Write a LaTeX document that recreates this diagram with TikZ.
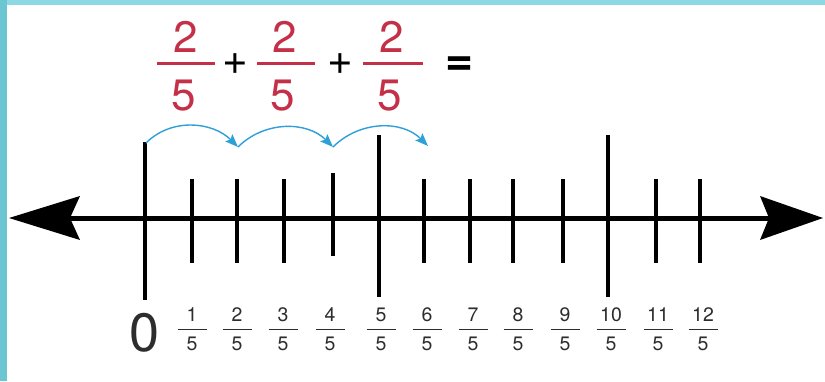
\documentclass[tikz,border=0pt]{standalone}
\usepackage{fontspec}
\setmainfont{TeX Gyre Heros}
\usetikzlibrary{arrows.meta,calc}
\definecolor{fracred}{RGB}{196,48,72}
\definecolor{jumpblue}{RGB}{45,160,215}
\definecolor{leftcyan}{RGB}{108,198,210}
\definecolor{topcyan}{RGB}{140,216,228}
\definecolor{labgray}{RGB}{45,45,45}
\tikzset{
  topnum/.style={inner sep=0pt, text=fracred, font=\fontsize{44}{44}\selectfont},
  topop/.style={inner sep=0pt, text=black, font=\fontsize{44}{44}\selectfont},
  topbar/.style={draw=fracred, line width=3pt},
  tickline/.style={line width=4.5pt, black},
  smalllab/.style={inner sep=0pt, text=labgray, font=\fontsize{19.5}{19.5}\selectfont},
  smallbar/.style={draw=labgray, line width=1.4pt},
  jump/.style={draw=jumpblue, line width=1.4pt, -{Stealth[length=13pt,width=10pt,inset=2.5pt]}},
}
\begin{document}
\begin{tikzpicture}[x=1pt,y=-1pt]
\useasboundingbox (0,0) rectangle (825,381);
\fill[white] (0,0) rectangle (825,381);
\fill[topcyan] (0,0) rectangle (825,4.5);
\fill[leftcyan] (0,0) rectangle (7,381);

% top sum
\node[topnum] (f1n) at (186,37) {2};
\node[topnum] (f1d) at (184,96) {5};
\draw[topbar] (157,63) -- (215,63);
\node[topop] (p1) at (235,64) {+};
\node[topnum] (f2n) at (285,37) {2};
\node[topnum] (f2d) at (283,96) {5};
\draw[topbar] (257,63) -- (315,63);
\node[topop] (p2) at (340,64) {+};
\node[topnum] (f3n) at (392,37) {2};
\node[topnum] (f3d) at (390,96) {5};
\draw[topbar] (363,63) -- (423,63);
\node[inner sep=0pt, font=\bfseries\fontsize{48}{48}\selectfont] (eq) at (460,66) {=};

% axis
\coordinate (L) at (9,218);
\coordinate (R) at (823,218);
\draw[line width=5pt, {Stealth[length=71pt,width=44pt,inset=10pt,line width=0pt]}-{Stealth[length=63pt,width=44pt,inset=9pt,line width=0pt]}] (L) -- (R);

% ticks
\draw[tickline] (145,142) -- (145,300);
\foreach \x in {192,237,284,424,470,513,563,656,700}
  \draw[tickline] (\x,179) -- (\x,263);
\draw[tickline] (333,173) -- (333,256);
\draw[tickline] (379,135) -- (379,297);
\draw[tickline] (608,135) -- (608,297);

% jumps
\coordinate (j0) at (146,143);
\coordinate (j1) at (238,147);
\coordinate (j2) at (333,147);
\coordinate (j3) at (428,146);
\draw[jump] (j0) to[out=45,in=135] (j1);
\draw[jump] (j1) to[out=45,in=135] (j2);
\draw[jump] (j2) to[out=45,in=135] (j3);

% labels
\node[inner sep=0pt, text=labgray, font=\fontsize{54}{54}\selectfont] (zero) at (145,333) {0};
\foreach \k/\x in {1/192,2/237,3/283,4/330,5/381,6/427,7/473,8/518,9/565,10/611,11/658,12/703}{
  \node[smalllab] (n\k) at (\x,315) {\k};
  \node[smalllab] (d\k) at (\x,344) {5};
  \draw[smallbar] (\x-14.5,329.5) -- (\x+14.5,329.5);
}
\end{tikzpicture}
\end{document}
